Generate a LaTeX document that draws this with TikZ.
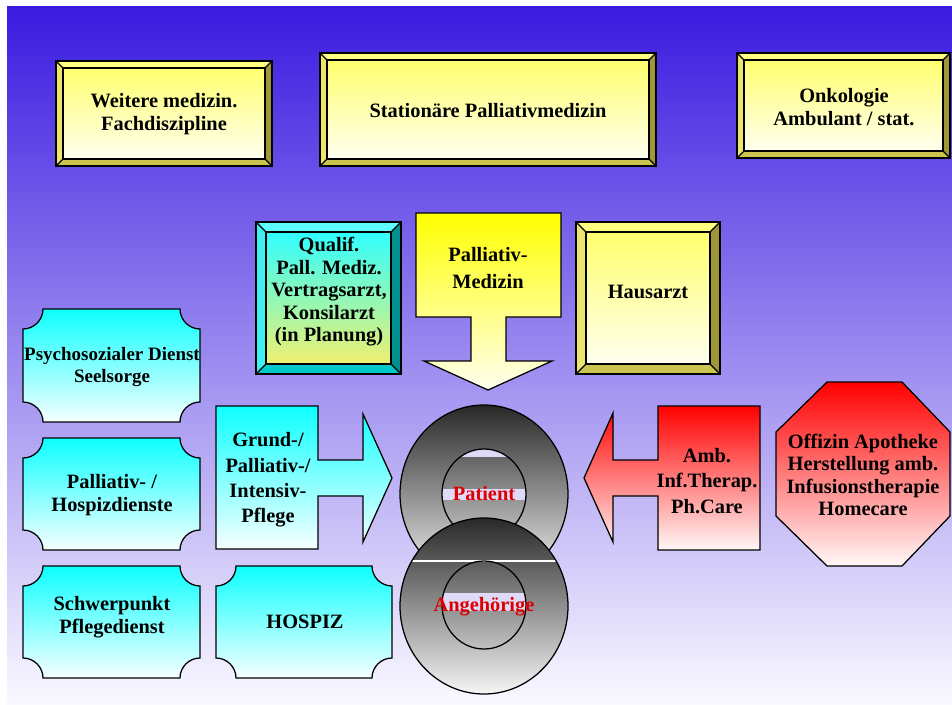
\documentclass[tikz,border=0pt]{standalone}
\usepackage{fontspec}
\setmainfont{Liberation Serif}
\usepackage{tikz}
\usetikzlibrary{calc}

\definecolor{bgtop}{RGB}{58,26,224}
\definecolor{bgbot}{RGB}{250,249,255}
%yellow bevel colours
\definecolor{ylwtop}{RGB}{255,255,128}
\definecolor{ylwleft}{RGB}{236,230,110}
\definecolor{ylwright}{RGB}{160,152,56}
\definecolor{ylwbot}{RGB}{204,196,80}
\definecolor{ylwhi}{RGB}{255,255,110}
\definecolor{ylwlo}{RGB}{255,255,240}
%cyan bevel colours
\definecolor{cyntop}{RGB}{96,255,255}
\definecolor{cynleft}{RGB}{64,240,240}
\definecolor{cynright}{RGB}{0,144,144}
\definecolor{cynbot}{RGB}{0,200,200}
\definecolor{cynhi}{RGB}{48,255,255}
\definecolor{cynlo}{RGB}{240,240,112}
\definecolor{redtxt}{RGB}{220,0,0}
\definecolor{holeband}{RGB}{222,218,248}
\definecolor{ringtop}{RGB}{40,40,40}
\definecolor{ringmid}{RGB}{170,170,170}
\definecolor{ringbot}{RGB}{246,246,246}

%bevelled box: (#1,#2) top left, (#3,#4) bottom right, #5 bevel, #6 colour set
\newcommand{\bevelbox}[6]{%
  \fill[#6top] (#1,#2) -- (#3,#2) -- ({#3-#5},{#2+#5}) -- ({#1+#5},{#2+#5}) -- cycle;
  \fill[#6left] (#1,#2) -- ({#1+#5},{#2+#5}) -- ({#1+#5},{#4-#5}) -- (#1,#4) -- cycle;
  \fill[#6right] (#3,#2) -- (#3,#4) -- ({#3-#5},{#4-#5}) -- ({#3-#5},{#2+#5}) -- cycle;
  \fill[#6bot] (#1,#4) -- (#3,#4) -- ({#3-#5},{#4-#5}) -- ({#1+#5},{#4-#5}) -- cycle;
  \shade[top color=#6hi, bottom color=#6lo] ({#1+#5},{#2+#5}) rectangle ({#3-#5},{#4-#5});
  \draw[outl] (#1,#2) rectangle (#3,#4);
  \draw[outl] ({#1+#5},{#2+#5}) rectangle ({#3-#5},{#4-#5});
  \draw[outl] (#1,#2) -- ({#1+#5},{#2+#5}) (#3,#2) -- ({#3-#5},{#2+#5})
              (#1,#4) -- ({#1+#5},{#4-#5}) (#3,#4) -- ({#3-#5},{#4-#5});
}
%plaque with hollow corners of radius 20
\newcommand{\plaque}[4]{%
  \shadedraw[plq] ({#1+20},#2) -- ({#3-20},#2)
     .. controls ({#3-20},{#2+11}) and ({#3-11},{#2+20}) .. (#3,{#2+20}) -- (#3,{#4-20})
     .. controls ({#3-11},{#4-20}) and ({#3-20},{#4-11}) .. ({#3-20},#4) -- ({#1+20},#4)
     .. controls ({#1+20},{#4-11}) and ({#1+11},{#4-20}) .. (#1,{#4-20}) -- (#1,{#2+20})
     .. controls ({#1+11},{#2+20}) and ({#1+20},{#2+11}) .. ({#1+20},#2) -- cycle;
}

\begin{document}
\begin{tikzpicture}
     [x=0.025cm,y=-0.025cm,line join=miter,
     %text of the boxes
     lbl/.style={font=\bfseries\fontsize{14.5}{16}\selectfont,align=center,inner sep=0pt},
     lblwide/.style={lbl,font=\bfseries\fontsize{14.5}{18}\selectfont},
     ringlbl/.style={lbl,text=redtxt},
     outl/.style={draw=black,line width=0.9pt},
     plq/.style={outl,top color=cyan!95!white,bottom color=cyan!3!white},
     ring/.style={top color=ringtop,middle color=ringmid,bottom color=ringbot}]

\useasboundingbox (0,0) rectangle (952,704);
%background
\shade[top color=bgtop,bottom color=bgbot] (7,6) rectangle (952,704);

%top row
\bevelbox{56}{61}{272}{166}{7}{ylw}
\bevelbox{320}{53}{656}{166}{7}{ylw}
\bevelbox{737}{53}{950}{158}{7}{ylw}
 \node[lbl] (weitere) at (164,114) {Weitere medizin.\\Fachdiszipline};
 \node[lbl] (station) at (488,111) {Stationäre Palliativmedizin};
 \node[lbl] (onko) at (844,107) {Onkologie\\Ambulant / stat.};

%second row
\bevelbox{256}{222}{401}{374}{10}{cyn}
\bevelbox{576}{222}{720}{374}{10}{ylw}
 \shadedraw[outl,top color=yellow,bottom color=ylwlo]
   (416,213) -- (561,213) -- (561,317) -- (506,317) -- (506,361) -- (552,361)
   -- (488,390) -- (424,361) -- (471,361) -- (471,317) -- (416,317) -- cycle;
 \node[lbl] (qualif) at (329,292) {Qualif.\\Pall. Mediz.\\Vertragsarzt,\\Konsilarzt\\(in Planung)};
 \node[lbl,font=\bfseries\fontsize{14.5}{19}\selectfont] (pallmed) at (488,268) {Palliativ-\\Medizin};
 \node[lbl] (hausarzt) at (648,292) {Hausarzt};

%left column
\plaque{23}{309}{200}{422}
\plaque{23}{438}{200}{550}
\plaque{23}{566}{200}{678}
\plaque{216}{566}{392}{678}
 \node[lbl,font=\bfseries\fontsize{13.5}{16}\selectfont] (psycho) at (112,367) {Psychosozialer Dienst\\Seelsorge};
 \node[lbl] (hospd) at (112,495) {Palliativ- /\\Hospizdienste};
 \node[lbl] (schwer) at (112,617) {Schwerpunkt\\Pflegedienst};
 \node[lbl] (hospiz) at (305,622) {HOSPIZ};

 \shadedraw[plq] (216,406) -- (318,406) -- (318,460) -- (363,460) -- (363,414) -- (392,478)
   -- (363,542) -- (363,496) -- (318,496) -- (318,549) -- (216,549) -- cycle;
 \node[lblwide] (pflege) at (268,480) {Grund-/\\Palliativ-/\\Intensiv-\\Pflege};

%right side
 \shadedraw[outl,top color=red,bottom color=red!3!white] (760,406) -- (760,550) -- (658,550)
   -- (658,496) -- (613,496) -- (613,542) -- (584,478) -- (613,413) -- (613,460) -- (658,460)
   -- (658,406) -- cycle;
 \node[lblwide] (amb) at (707,481) {Amb.\\Inf.Therap.\\Ph.Care};
 \shadedraw[outl,top color=red,bottom color=red!3!white] (827,382) -- (902,382) -- (950,432)
   -- (950,516) -- (902,566) -- (827,566) -- (776,516) -- (776,432) -- cycle;
 \node[lbl] (offizin) at (863,475) {Offizin Apotheke\\Herstellung amb.\\Infusionstherapie\\Homecare};

%the two rings
 \begin{scope}
  \clip (484,494) circle[x radius=84, y radius=89];
  \shade[ring] (400,405) rectangle (568,583);
  \begin{scope}
   \clip (484,494) circle[x radius=42, y radius=45];
   \fill[holeband] (430,449) rectangle (540,457);
   \fill[holeband] (430,489) rectangle (540,500);
  \end{scope}
 \end{scope}
 \draw[outl] (484,494) circle[x radius=84, y radius=89];
 \draw[outl] (484,494) circle[x radius=42, y radius=45];
 \node[ringlbl] (patient) at (484,494) {Patient};

 \begin{scope}
  \clip (484,606) circle[x radius=84, y radius=88];
  \shade[ring] (400,518) rectangle (568,694);
  \draw[white,line width=0.8pt] (400,561) -- (570,561);
  \begin{scope}
   \clip (484,605) circle[x radius=42, y radius=44];
   \fill[holeband] (430,593) rectangle (540,611);
  \end{scope}
 \end{scope}
 \draw[outl] (484,606) circle[x radius=84, y radius=88];
 \draw[outl] (484,605) circle[x radius=42, y radius=44];
 \node[ringlbl] (angeh) at (484,607) {Angehörige};
\end{tikzpicture}
\end{document}
